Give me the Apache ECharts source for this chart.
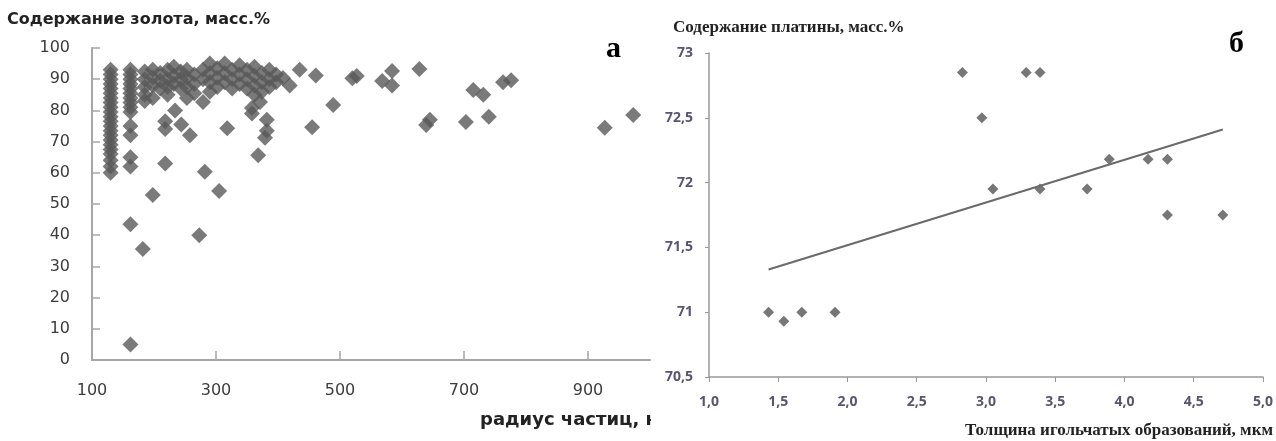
<!DOCTYPE html>
<html>
<head>
<meta charset="utf-8">
<script src="https://cdn.jsdelivr.net/npm/echarts@6/dist/echarts.min.js"></script>
<style>
  html, body { margin: 0; padding: 0; background: #fff; }
  #chart { width: 1276px; height: 441px; }
</style>
</head>
<body>
<div id="chart"></div>
<script>
// panel а: gold content vs particle radius
const radius = [
  130, 130, 130, 130, 130, 130, 130, 130, 130, 130, 130, 130, 130, 130, 130, 130, 130, 130, 130, 130, 130, 130,
  162, 162, 162, 162, 162, 162, 162, 162, 162, 162, 162, 162, 162, 162, 162, 162,
  185, 185, 185, 185, 185, 198, 198, 198, 198, 210, 210, 210, 222, 222, 222, 222,
  232, 232, 232, 243, 243, 243, 253, 253, 253, 253, 265, 265, 265, 279, 279, 279,
  290, 290, 290, 290, 302, 302, 302, 314, 314, 314, 326, 326, 326, 338, 338, 338,
  350, 350, 350, 362, 362, 362, 362, 374, 374, 374, 386, 386, 386, 397, 397, 408, 419,
  218, 218, 234, 244, 258, 218, 282, 305, 198, 182, 273, 318, 358, 358, 368, 382, 382, 379, 371,
  455, 489, 435, 461, 520, 527, 568, 584, 584, 628, 645, 639, 703, 715, 731, 740, 763, 776, 927, 973
];
const gold = [
  93, 91.5, 90, 88.5, 87, 85.5, 84, 82.5, 81, 79.5, 78, 76.5, 75, 73.5, 72, 70.5, 69, 67.5, 66, 64, 62, 60,
  93, 91.5, 90, 88.5, 87, 85.5, 84, 82.5, 81, 75, 72, 65, 62, 43.5, 5, 79.5,
  92.5, 90, 87.5, 85, 83, 93, 90.5, 88, 84, 92, 89.5, 87, 93, 90, 87.5, 85,
  94, 91, 88.5, 92.5, 90, 87, 93, 90.5, 87.5, 84, 91.5, 88.5, 85.5, 93, 90, 82.7,
  95, 92, 89, 86, 93.5, 90.5, 87.5, 95, 92, 89, 93, 90, 87, 94.5, 91.5, 88.5,
  93, 90, 87, 94, 91, 88, 85, 92, 89, 86, 93, 90, 87.5, 91.5, 89, 90.4, 88,
  76.5, 74, 80, 75.5, 72, 63, 60.3, 54.2, 52.9, 35.6, 40, 74.3, 80.8, 79, 65.6, 77, 73.5, 71.2, 82.7,
  74.6, 81.7, 93, 91.2, 90.3, 91, 89.4, 92.6, 88, 93.3, 77, 75.3, 76.3, 86.5, 85, 78, 89, 89.7, 74.4, 78.5
];
const radiusTicks = [100, 300, 500, 700, 900];

// panel б: platinum content vs needle thickness
const thickness = [1.43, 1.54, 1.67, 1.91, 2.83, 2.97, 3.05, 3.29, 3.39, 3.39, 3.73, 3.89, 4.17, 4.31, 4.31, 4.71];
const platinum = [71.0, 70.93, 71.0, 71.0, 72.85, 72.5, 71.95, 72.85, 72.85, 71.95, 71.95, 72.18, 72.18, 72.18, 71.75, 71.75];
// trend line end points as drawn
const trendX = [1.43, 4.71];
const trendY = [71.33, 72.41];

const pair = (xs, ys) => xs.map((x, i) => [x, ys[i]]);

const chart = echarts.init(document.getElementById('chart'));

const leftLabel = { fontFamily: 'DejaVu Sans', fontSize: 16, color: '#3c3c3c' };
const rightLabel = { fontFamily: 'Open Sans', fontSize: 14, fontWeight: 'bold', color: '#5a5470' };

chart.setOption({
  animation: false,
  grid: [
    { left: 92, top: 48, width: 558, height: 312 },
    { left: 709, top: 53, width: 554, height: 324 }
  ],
  xAxis: [
    {
      gridIndex: 0, type: 'value', min: 100, max: 1000, interval: 200,
      splitLine: { show: false },
      axisLine: { lineStyle: { color: '#a6a6a6', width: 2 } },
      axisTick: { inside: true, length: 9, lineStyle: { color: '#a6a6a6', width: 1.5 } },
      axisLabel: Object.assign({ margin: 23, showMaxLabel: false,
        formatter: v => radiusTicks.includes(v) ? String(v) : '' }, leftLabel)
    },
    {
      gridIndex: 1, type: 'value', min: 1, max: 5, interval: 0.5,
      splitLine: { show: false },
      axisLine: { lineStyle: { color: '#999', width: 1.5 } },
      axisTick: { length: 5, lineStyle: { color: '#999' } },
      axisLabel: Object.assign({ margin: 18, formatter: v => v.toFixed(1).replace('.', ',') }, rightLabel)
    }
  ],
  yAxis: [
    {
      gridIndex: 0, type: 'value', min: 0, max: 100, interval: 10,
      splitLine: { show: false },
      axisLine: { show: true, lineStyle: { color: '#a6a6a6', width: 2 } },
      axisTick: { show: true, inside: true, length: 8, lineStyle: { color: '#a6a6a6', width: 1.5 } },
      axisLabel: Object.assign({ margin: 22 }, leftLabel)
    },
    {
      gridIndex: 1, type: 'value', min: 70.5, max: 73, interval: 0.5,
      splitLine: { show: false },
      axisLine: { show: true, lineStyle: { color: '#999', width: 1.5 } },
      axisTick: { show: true, length: 4, lineStyle: { color: '#999' } },
      axisLabel: Object.assign({ margin: 16, formatter: v => String(v).replace('.', ',') }, rightLabel)
    }
  ],
  series: [
    {
      type: 'scatter', xAxisIndex: 0, yAxisIndex: 0,
      symbol: 'diamond', symbolSize: 16,
      itemStyle: { color: '#595959' },
      data: pair(radius, gold)
    },
    {
      type: 'line', xAxisIndex: 1, yAxisIndex: 1,
      showSymbol: false, symbol: 'none',
      lineStyle: { color: '#6a6a6a', width: 2 },
      data: pair(trendX, trendY)
    },
    {
      type: 'scatter', xAxisIndex: 1, yAxisIndex: 1,
      symbol: 'diamond', symbolSize: 11,
      itemStyle: { color: '#555' },
      data: pair(thickness, platinum)
    }
  ],
  graphic: [
    { type: 'text', left: 7, top: 12,
      style: { text: 'Содержание золота, масс.%', font: 'bold 16px "DejaVu Sans"', fill: '#222' } },
    { type: 'text', left: 480, top: 411,
      style: { text: 'радиус частиц, нм', font: 'bold 18px "DejaVu Sans"', fill: '#222' } },
    // the right panel covers the end of the left axis name
    { type: 'rect', shape: { x: 651, y: 405, width: 48, height: 36 }, style: { fill: '#fff' }, z: 100 },
    { type: 'text', left: 606, top: 34,
      style: { text: 'а', font: 'bold 30px "Liberation Serif"', fill: '#000' } },
    { type: 'text', left: 673, top: 19,
      style: { text: 'Содержание платины, масс.%', font: 'bold 17px "Liberation Serif"', fill: '#222' } },
    { type: 'text', right: 3, top: 422,
      style: { text: 'Толщина игольчатых образований, мкм', font: 'bold 17px "Liberation Serif"', fill: '#222' } },
    { type: 'text', left: 1229, top: 29,
      style: { text: 'б', font: 'bold 30px "Liberation Serif"', fill: '#000' } }
  ]
});
</script>
</body>
</html>
